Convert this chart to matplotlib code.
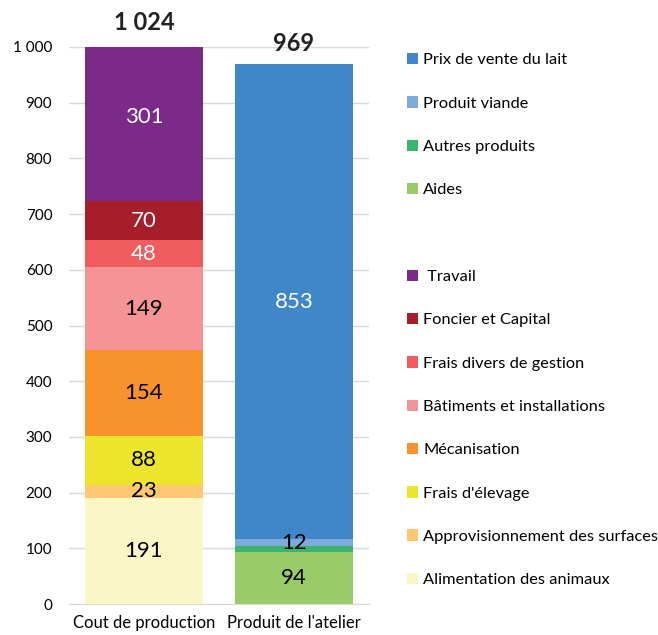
import numpy as np
import matplotlib.pyplot as plt
from matplotlib.patches import Patch

plt.rcParams['font.family'] = ['Lato', 'DejaVu Sans']

# Data
categories = ["Cout de production", "Produit de l'atelier"]

cost_names = ["Alimentation des animaux", "Approvisionnement des surfaces", "Frais d'élevage",
              "Mécanisation", "Bâtiments et installations", "Frais divers de gestion",
              "Foncier et Capital", "Travail"]
cost_values = [191, 23, 88, 154, 149, 48, 70, 301]
cost_colors = ["#FAF7C6", "#FFC870", "#EDE42C", "#F7922D", "#F59497", "#F05D5E", "#A51E2A", "#7B2A8A"]
cost_text = ["black", "black", "black", "black", "black", "white", "white", "white"]

prod_names = ["Aides", "Autres produits", "Produit viande", "Prix de vente du lait"]
prod_values = [94, 10, 12, 853]
prod_colors = ["#99CC66", "#3BB56E", "#7FAADC", "#3F87C8"]
prod_text = ["black", None, "black", "white"]

totals = [1024, 969]
total_labels = ["1 024", "969"]

fig = plt.figure(figsize=(6.58, 6.35), dpi=100)
ax = fig.add_axes([69 / 658, 1 - 604 / 635, 300 / 658, 557 / 635])

width = 0.79
handles = {}

def stack(x, names, values, colors, tcolors):
    bottom = 0
    for n, v, c, tc in zip(names, values, colors, tcolors):
        b = ax.bar(x, v, width, bottom=bottom, color=c, label=n, zorder=2)
        handles[n] = b
        if tc is not None:
            ax.text(x, bottom + v / 2, str(v), ha='center', va='center',
                    fontsize=16, color=tc, zorder=3)
        bottom += v

stack(0, cost_names, cost_values, cost_colors, cost_text)
stack(1, prod_names, prod_values, prod_colors, prod_text)

ymax = 1000
for i, (t, lab) in enumerate(zip(totals, total_labels)):
    # clipped bar: label sits just above the real total
    y = t if t > ymax else t + 16
    ax.text(i, y, lab, ha='center', va='bottom',
            fontsize=17, fontweight='bold', color='#222222', clip_on=False)

ax.set_xlim(-0.5, 1.5)
ax.set_ylim(0, ymax)
ax.set_yticks(np.arange(0, 1001, 100))
ax.set_yticklabels(["0"] + [f"{v:,}".replace(",", " ") for v in range(100, 1001, 100)])
ax.set_xticks([0, 1])
ax.set_xticklabels(categories)
ax.tick_params(axis='both', length=0, labelsize=11, pad=8)
ax.tick_params(axis='x', labelsize=12)
ax.tick_params(axis='y', pad=12)
ax.yaxis.grid(True, color='#D9D9D9', linewidth=1, zorder=0)
for s in ['left', 'right', 'top']:
    ax.spines[s].set_visible(False)
ax.spines['bottom'].set_color('#D9D9D9')

# Legend
order = ["Prix de vente du lait", "Produit viande", "Autres produits", "Aides", None,
         "Travail", "Foncier et Capital", "Frais divers de gestion", "Bâtiments et installations",
         "Mécanisation", "Frais d'élevage", "Approvisionnement des surfaces", "Alimentation des animaux"]
leg_h, leg_l = [], []
for n in order:
    if n is None:
        leg_h.append(Patch(facecolor='none', edgecolor='none'))
        leg_l.append(" ")
    else:
        leg_h.append(handles[n])
        leg_l.append(" " + n if n == "Travail" else n)
fig.legend(leg_h, leg_l, loc='upper left', bbox_to_anchor=(407 / 658, 1 - 53 / 635),
           frameon=False, fontsize=11.8, handlelength=0.7, handleheight=0.7,
           handletextpad=0.3, labelspacing=1.76, borderaxespad=0, borderpad=0)

plt.savefig("out.png", dpi=100)
